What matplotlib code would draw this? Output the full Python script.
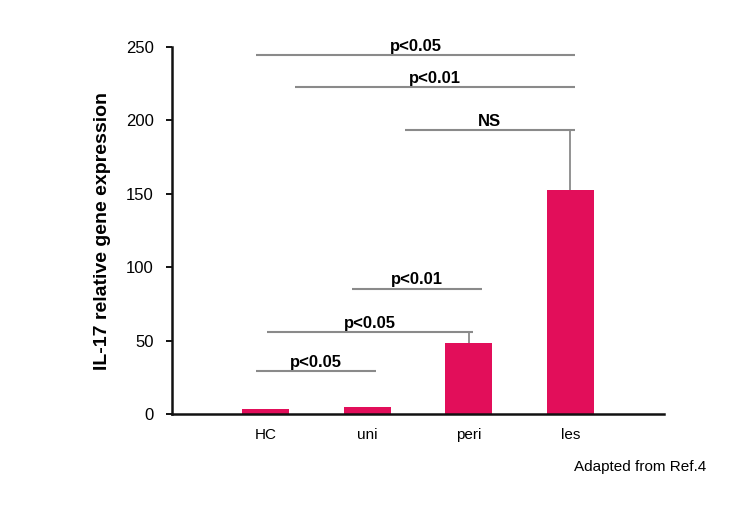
import matplotlib.pyplot as plt
import numpy as np

# data
groups = ["HC", "uni", "peri", "les"]
expression = [3.4, 4.6, 48.2, 152.6]
err_up = [0, 0, 7.2, 40.9]

# significance brackets: (x start, x end, y, label)
sig_x0 = [-0.09, 0.29, 1.37, 0.85, 0.01, -0.09]
sig_x1 = [3.04, 3.04, 3.04, 2.13, 2.04, 1.09]
sig_y = [244.6, 222.5, 193.5, 85.4, 55.6, 29.3]
sig_txt = ["p<0.05", "p<0.01", "NS", "p<0.01", "p<0.05", "p<0.05"]

bar_col = "#E20E5A"
line_col = "#8a8a8a"

plt.rcParams['font.family'] = ['Liberation Sans', 'DejaVu Sans']

fig = plt.figure(figsize=(7.55, 5.09), dpi=100)
ax = fig.add_axes([0.2278, 0.1866, 0.6517, 0.7211])

x = np.arange(len(groups))
ax.bar(x, expression, width=0.46, color=bar_col, zorder=2)
ax.errorbar(x, expression, yerr=[np.zeros(len(x)), err_up], fmt='none',
            ecolor=line_col, elinewidth=1.3, capsize=0, zorder=1)

for x0, x1, y, t in zip(sig_x0, sig_x1, sig_y, sig_txt):
    ax.plot([x0, x1], [y, y], color=line_col, lw=1.5, solid_capstyle='butt')
    ax.annotate(t, ((x0 + x1) / 2, y), xytext=(0, 1.0), textcoords='offset points',
                ha='center', va='bottom', fontsize=12, fontweight='bold')

ax.set_xlim(-0.92, 3.92)
ax.set_ylim(0, 250)
ax.set_yticks([0, 50, 100, 150, 200, 250])
ax.set_xticks(x)
ax.set_xticklabels(groups)
ax.tick_params(axis='x', length=0, pad=10, labelsize=11)
ax.tick_params(axis='y', length=4, width=1.3, pad=9, labelsize=12)

for s in ['top', 'right']:
    ax.spines[s].set_visible(False)
for s in ['left', 'bottom']:
    ax.spines[s].set_linewidth(1.8)
    ax.spines[s].set_color('#111111')

ax.set_ylabel("IL-17 relative gene expression", fontsize=14, fontweight='bold', labelpad=11)

fig.text(0.935, 0.082, "Adapted from Ref.4", ha='right', va='center', fontsize=11)

fig.savefig("out.png", dpi=100)
